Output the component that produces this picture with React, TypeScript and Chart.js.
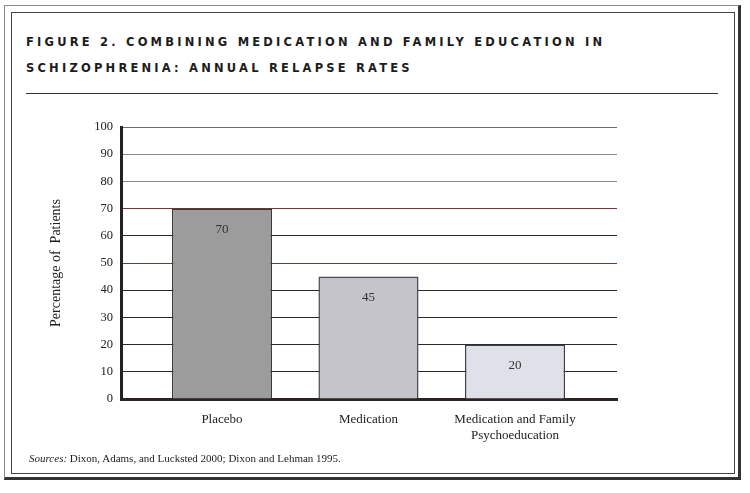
import React, { useEffect, useRef } from "react";
import { Chart, registerables } from "chart.js";

Chart.register(...registerables);

const categoryLines: string[][] = [
  ["Placebo"],
  ["Medication"],
  ["Medication and Family", "Psychoeducation"],
];
const relapseRates: number[] = [70, 45, 20];
const barFills: string[] = ["#9c9c9c", "#c4c4ca", "#dfe0e8"];
const barBorders: string[] = ["#3a3a3a", "#4a4a55", "#3f3f48"];
const yTickValues: number[] = [0, 10, 20, 30, 40, 50, 60, 70, 80, 90, 100];

const titleLine1 = "FIGURE 2. COMBINING MEDICATION AND FAMILY EDUCATION IN";
const titleLine2 = "SCHIZOPHRENIA: ANNUAL RELAPSE RATES";
const yAxisTitle = "Percentage of  Patients";
const sourcesLabel = "Sources:";
const sourcesText = " Dixon, Adams, and Lucksted 2000; Dixon and Lehman 1995.";

const SERIF = "'Liberation Serif', 'DejaVu Serif', serif";

const valueLabelPlugin = {
  id: "valueLabels",
  afterDatasetsDraw(chart: any) {
    const ctx = chart.ctx;
    const meta = chart.getDatasetMeta(0);
    ctx.save();
    ctx.font = `13px ${SERIF}`;
    ctx.fillStyle = "#333";
    ctx.textAlign = "center";
    ctx.textBaseline = "middle";
    meta.data.forEach((bar: any, i: number) => {
      ctx.fillText(String(relapseRates[i]), bar.x, bar.y + 21);
    });
    ctx.restore();
  },
};

function gridColor(v: number): string {
  if (v === 50 || v === 70) return "#6e3a3a";
  if (v === 80 || v === 90) return "#8a8a8a";
  if (v === 100) return "#6a6a6a";
  return "#2a2a2a";
}

export default function App() {
  const canvasRef = useRef<HTMLCanvasElement | null>(null);

  useEffect(() => {
    if (!canvasRef.current) return;
    const chart = new Chart(canvasRef.current, {
      type: "bar",
      data: {
        datasets: [
          {
            data: relapseRates.map((v, i) => ({ x: i, y: v })),
            backgroundColor: barFills,
            borderColor: barBorders,
            borderWidth: 1.5,
            categoryPercentage: 1,
            barPercentage: 0.683,
          },
        ],
      },
      options: {
        animation: false,
        responsive: false,
        plugins: { legend: { display: false }, tooltip: { enabled: false } },
        layout: { padding: { left: 40, right: 133, top: 127, bottom: 34 } },
        scales: {
          x: {
            type: "linear",
            offset: false,
            bounds: "data",
            min: -0.689,
            max: 2.696,
            grid: { display: false, drawTicks: false, offset: false },
            border: { display: true, color: "#2a2424", width: 3 },
            afterBuildTicks: (scale: any) => {
              scale.ticks = categoryLines.map((_, i) => ({ value: i }));
            },
            afterFit: (scale: any) => {
              scale.height = 60;
            },
            ticks: {
              padding: 13,
              color: "#222",
              font: { family: SERIF, size: 13 },
              autoSkip: false,
              maxRotation: 0,
              callback: (value: any) => categoryLines[Number(value)] ?? "",
            },
          },
          y: {
            min: 0,
            max: 100,
            afterBuildTicks: (scale: any) => {
              scale.ticks = yTickValues.map((v) => ({ value: v }));
            },
            afterFit: (scale: any) => {
              scale.width = 81;
            },
            grid: {
              drawTicks: false,
              lineWidth: 1,
              color: (c: any) => gridColor(c.tick ? c.tick.value : 0),
            },
            border: { display: true, color: "#222", width: 3 },
            ticks: {
              padding: 8,
              color: "#222",
              font: { family: SERIF, size: 12.5 },
            },
            title: {
              display: true,
              text: yAxisTitle,
              color: "#222",
              font: { family: SERIF, size: 14 },
              padding: { top: 8, bottom: 0 },
            },
          },
        },
      },
      plugins: [valueLabelPlugin],
    } as any);
    return () => chart.destroy();
  }, []);

  const titleStyle: React.CSSProperties = {
    position: "absolute",
    left: 26,
    font: "bold 11.5px 'DejaVu Sans', sans-serif",
    letterSpacing: "3.2px",
    lineHeight: "16px",
    color: "#1c1c1c",
    whiteSpace: "nowrap",
  };

  return (
    <div
      style={{
        position: "absolute",
        left: 0,
        top: 0,
        width: 750,
        height: 493,
        background: "#fff",
        overflow: "hidden",
      }}
    >
      <div
        style={{
          position: "absolute",
          left: 4,
          top: 5,
          width: 737,
          height: 475,
          boxSizing: "border-box",
          borderTop: "1px solid #8a8a8a",
          borderLeft: "1px solid #8a8a8a",
          borderRight: "3px solid #333",
          borderBottom: "3px solid #333",
        }}
      />
      <div
        style={{
          position: "absolute",
          left: 11,
          top: 12,
          width: 724,
          height: 462,
          boxSizing: "border-box",
          border: "1px solid #444",
        }}
      />
      <div style={{ ...titleStyle, top: 34 }}>{titleLine1}</div>
      <div style={{ ...titleStyle, top: 60 }}>{titleLine2}</div>
      <div
        style={{
          position: "absolute",
          left: 26,
          top: 93,
          width: 692,
          height: 0,
          borderTop: "1px solid #333",
        }}
      />
      <canvas
        ref={canvasRef}
        width={750}
        height={493}
        style={{ position: "absolute", left: 0, top: 0, width: 750, height: 493 }}
      />
      <div
        style={{
          position: "absolute",
          left: 29,
          top: 451,
          font: `11px ${SERIF}`,
          lineHeight: "14px",
          color: "#222",
          whiteSpace: "nowrap",
        }}
      >
        <i>{sourcesLabel}</i>
        {sourcesText}
      </div>
    </div>
  );
}
